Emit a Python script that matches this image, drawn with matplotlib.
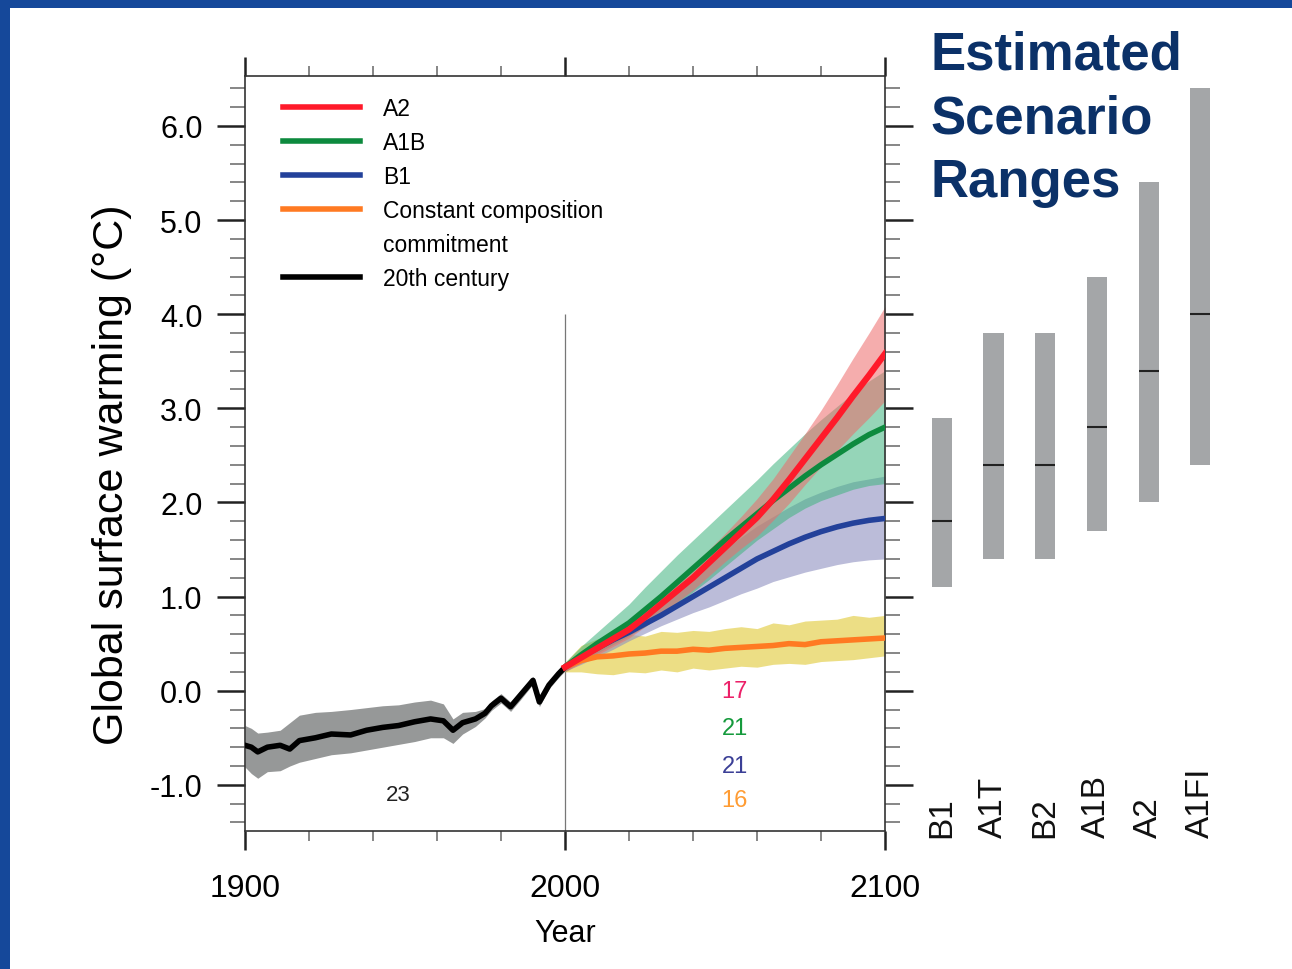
import matplotlib
matplotlib.use("Agg")
import matplotlib.pyplot as plt
from matplotlib.patches import Rectangle
from matplotlib.lines import Line2D
from matplotlib.ticker import MultipleLocator, FormatStrFormatter

plt.rcParams['font.family'] = ['Liberation Sans', 'DejaVu Sans']
plt.rcParams['axes.unicode_minus'] = False

# 20th century ensemble mean and spread
years_20c = [1900, 1902, 1904, 1907, 1911, 1914, 1917, 1922, 1927, 1933, 1938, 1943, 1948, 1953,
             1958, 1962, 1965, 1968, 1972, 1975, 1977, 1980, 1983, 1986, 1990, 1992, 1995, 1998, 2000]
temp_20c = [-0.58, -0.60, -0.65, -0.60, -0.58, -0.62, -0.53, -0.50, -0.46, -0.47, -0.42, -0.39, -0.37, -0.33,
            -0.30, -0.32, -0.42, -0.34, -0.30, -0.24, -0.16, -0.08, -0.17, -0.05, 0.11, -0.12, 0.06, 0.18, 0.25]
upper_20c = [-0.37, -0.40, -0.45, -0.44, -0.42, -0.34, -0.26, -0.23, -0.22, -0.20, -0.18, -0.16, -0.15, -0.12,
             -0.10, -0.14, -0.30, -0.23, -0.22, -0.19, -0.11, -0.03, -0.12, 0.00, 0.15, -0.07, 0.10, 0.22, 0.29]
lower_20c = [-0.81, -0.88, -0.93, -0.86, -0.85, -0.80, -0.76, -0.72, -0.68, -0.66, -0.63, -0.60, -0.57, -0.54,
             -0.50, -0.50, -0.56, -0.46, -0.38, -0.29, -0.21, -0.13, -0.22, -0.10, 0.07, -0.17, 0.02, 0.14, 0.21]

# 21st century projections
years_fut = [2000, 2005, 2010, 2015, 2020, 2025, 2030, 2035, 2040, 2045, 2050,
             2055, 2060, 2065, 2070, 2075, 2080, 2085, 2090, 2095, 2100]
a2 = [0.25, 0.35, 0.45, 0.55, 0.65, 0.78, 0.92, 1.06, 1.20, 1.36, 1.52,
      1.68, 1.84, 2.03, 2.24, 2.46, 2.68, 2.90, 3.13, 3.35, 3.58]
a2_hi = [0.30, 0.41, 0.52, 0.63, 0.74, 0.88, 1.03, 1.18, 1.33, 1.50, 1.67,
         1.85, 2.04, 2.25, 2.49, 2.73, 2.98, 3.25, 3.53, 3.80, 4.08]
a2_lo = [0.20, 0.29, 0.38, 0.47, 0.56, 0.68, 0.81, 0.94, 1.07, 1.22, 1.37,
         1.51, 1.64, 1.81, 1.99, 2.19, 2.38, 2.55, 2.73, 2.90, 3.08]
a1b = [0.25, 0.38, 0.50, 0.61, 0.72, 0.86, 1.00, 1.15, 1.30, 1.45, 1.60,
       1.74, 1.88, 2.02, 2.15, 2.28, 2.40, 2.51, 2.62, 2.72, 2.80]
a1b_hi = [0.30, 0.47, 0.62, 0.77, 0.92, 1.10, 1.27, 1.44, 1.60, 1.76, 1.92,
          2.08, 2.24, 2.41, 2.57, 2.73, 2.88, 3.02, 3.16, 3.29, 3.40]
a1b_lo = [0.20, 0.31, 0.40, 0.49, 0.58, 0.68, 0.80, 0.92, 1.05, 1.18, 1.32,
          1.46, 1.60, 1.72, 1.84, 1.94, 2.02, 2.08, 2.14, 2.18, 2.20]
b1 = [0.25, 0.36, 0.45, 0.54, 0.62, 0.71, 0.80, 0.90, 1.00, 1.10, 1.20,
      1.30, 1.40, 1.48, 1.56, 1.63, 1.69, 1.74, 1.78, 1.81, 1.83]
b1_hi = [0.29, 0.42, 0.53, 0.64, 0.75, 0.86, 0.98, 1.10, 1.24, 1.37, 1.50,
         1.63, 1.75, 1.85, 1.95, 2.04, 2.11, 2.17, 2.22, 2.25, 2.28]
b1_lo = [0.21, 0.28, 0.36, 0.44, 0.53, 0.61, 0.69, 0.76, 0.83, 0.89, 0.96,
         1.03, 1.09, 1.16, 1.21, 1.26, 1.30, 1.34, 1.37, 1.39, 1.40]
const = [0.25, 0.32, 0.36, 0.37, 0.39, 0.40, 0.42, 0.42, 0.44, 0.43, 0.45,
         0.46, 0.47, 0.48, 0.50, 0.49, 0.52, 0.53, 0.54, 0.55, 0.56]
const_hi = [0.30, 0.48, 0.55, 0.57, 0.60, 0.58, 0.63, 0.62, 0.64, 0.63, 0.66,
            0.68, 0.66, 0.72, 0.70, 0.74, 0.75, 0.76, 0.80, 0.78, 0.80]
const_lo = [0.20, 0.20, 0.18, 0.17, 0.20, 0.19, 0.22, 0.20, 0.24, 0.22, 0.24,
            0.26, 0.25, 0.28, 0.29, 0.28, 0.31, 0.32, 0.33, 0.35, 0.37]

# number of models per scenario
n_20c = '23'
n_labels = ['17', '21', '21', '16']
n_colors = ['#ec2068', '#159a3c', '#3b3f96', '#ff9c33']
n_y = [0.0, -0.4, -0.8, -1.16]

# right panel: best estimate and likely range for 2090-2099
scenarios = ['B1', 'A1T', 'B2', 'A1B', 'A2', 'A1FI']
best = [1.8, 2.4, 2.4, 2.8, 3.4, 4.0]
low = [1.1, 1.4, 1.4, 1.7, 2.0, 2.4]
high = [2.9, 3.8, 3.8, 4.4, 5.4, 6.4]

fig = plt.figure(figsize=(12.92, 9.70), dpi=100)
fig.patch.set_facecolor('#15489a')
fig.add_artist(Rectangle((10 / 1292, 0), 1, 961 / 970, transform=fig.transFigure,
                         facecolor='white', edgecolor='none', zorder=0))

ax = fig.add_axes([0.1896, 0.1423, 0.4954, 0.7783])
ylim = (-1.49, 6.53)

# spreads
ax.fill_between(years_20c, lower_20c, upper_20c, color='#969898', lw=0, zorder=1)
ax.fill_between(years_fut, const_lo, const_hi, color='#e9d970', alpha=0.85, lw=0, zorder=1)
ax.fill_between(years_fut, b1_lo, b1_hi, color='#8e90c0', alpha=0.6, lw=0, zorder=1)
ax.fill_between(years_fut, a1b_lo, a1b_hi, color='#3fb47e', alpha=0.55, lw=0, zorder=2)
ax.fill_between(years_fut, a2_lo, a2_hi, color='#ee6a6a', alpha=0.55, lw=0, zorder=2)

l20, = ax.plot(years_20c, temp_20c, color='black', lw=4, zorder=5, label='20th century')
lc, = ax.plot(years_fut, const, color='#ff7a22', lw=4, zorder=5, label='Constant composition')
lb1, = ax.plot(years_fut, b1, color='#23419a', lw=4, zorder=5, label='B1')
la1b, = ax.plot(years_fut, a1b, color='#0d8a3e', lw=4, zorder=5, label='A1B')
la2, = ax.plot(years_fut, a2, color='#ff1a2a', lw=4.5, zorder=6, label='A2')
blank = Line2D([], [], color='none', label='commitment')

ax.vlines(2000, ylim[0], 4.0, color='#777777', lw=0.9, zorder=0)

ax.text(1948, -1.1, n_20c, fontsize=16, ha='center', va='center', color='#222222')
for lab, col, yy in zip(n_labels, n_colors, n_y):
    ax.text(2053, yy, lab, fontsize=17, ha='center', va='center', color=col)

leg = ax.legend(handles=[la2, la1b, lb1, lc, blank, l20], loc='upper left', bbox_to_anchor=(0.059, 0.972),
                frameon=False, fontsize=16.5, handlelength=3.36, handletextpad=1.0,
                labelspacing=0.48, borderpad=0, borderaxespad=0)
for line in leg.get_lines():
    line.set_linewidth(4)

ax.set_xlim(1900, 2100)
ax.set_ylim(*ylim)
ax.set_xticks([1900, 2000, 2100])
ax.xaxis.set_minor_locator(MultipleLocator(20))
ax.yaxis.set_major_locator(MultipleLocator(1.0))
ax.yaxis.set_minor_locator(MultipleLocator(0.2))
ax.yaxis.set_major_formatter(FormatStrFormatter('%.1f'))
ax.tick_params(which='both', direction='out', top=True, right=True, labeltop=False, labelright=False)
ax.tick_params(axis='y', which='major', length=20, width=1.8, color='#222222', labelsize=22, pad=10.5)
ax.tick_params(axis='y', which='minor', length=11, width=1.1, color='#666666')
ax.tick_params(axis='x', which='major', length=14, width=1.8, color='#222222', labelsize=23, pad=16)
ax.tick_params(axis='x', which='minor', length=7, width=1.1, color='#666666')
for sp in ax.spines.values():
    sp.set_linewidth(1.2)
    sp.set_color('#333333')
ax.set_xlabel('Year', fontsize=22, labelpad=11)
ax.set_ylabel('Global surface warming (\u00b0C)', fontsize=31)
ax.yaxis.set_label_coords(-0.177, 0.473)

# scenario range bars
ax2 = fig.add_axes([0.709, 0.1423, 0.24, 0.7783])
xs = list(range(len(scenarios)))
ax2.bar(xs, [h - l for h, l in zip(high, low)], bottom=low, width=0.39, color='#a4a6a8', zorder=1)
ax2.hlines(best, [x - 0.195 for x in xs], [x + 0.195 for x in xs], color='#222222', lw=1.5, zorder=2)
for x, name in zip(xs, scenarios):
    ax2.text(x, -1.55, name, rotation=90, ha='center', va='bottom', fontsize=24, color='#111111')
ax2.set_xlim(-0.5, 5.5)
ax2.set_ylim(*ylim)
ax2.axis('off')

title_lines = ['Estimated', 'Scenario', 'Ranges']
for i, t in enumerate(title_lines):
    fig.text(930 / 1292, 1 - (55 + 64 * i) / 970, t, fontsize=38, fontweight='bold',
             color='#0b3168', va='center')

fig.savefig('out.png', dpi=100, facecolor=fig.get_facecolor())
